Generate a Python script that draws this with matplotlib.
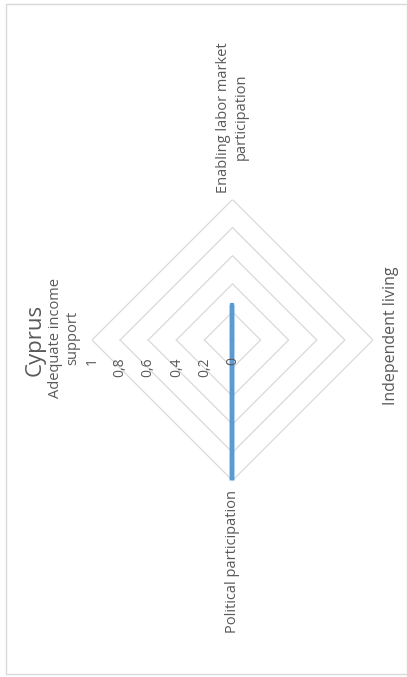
import numpy as np
import matplotlib.pyplot as plt
from matplotlib.patches import Rectangle

plt.rcParams["font.family"] = ["Open Sans", "DejaVu Sans"]

country = "Cyprus"
categories = [
    "Adequate income\nsupport",
    "Enabling labor market\nparticipation",
    "Independent living",
    "Political participation",
]
scores = [0.0, 0.25, 0.0, 1.0]
rings = [0.2, 0.4, 0.6, 0.8, 1.0]
tick_values = [1.0, 0.8, 0.6, 0.4, 0.2, 0.0]
tick_labels = ["1", "0,8", "0,6", "0,4", "0,2", "0"]

W, H = 407, 677
text_color = "#595959"
grid_color = "#D9D9D9"
line_color = "#5B9BD5"


def fx(px):
    return px / W


def fy(py):
    return 1 - py / H


fig = plt.figure(figsize=(W / 100, H / 100), dpi=100)

# radar sits on its side: first category points left, going clockwise
cx, cy, rad = 232.5, 340, 140.5
ax = fig.add_axes(
    [fx(cx - rad), fy(cy + rad), 2 * rad / W, 2 * rad / H], projection="polar"
)
ax.set_theta_offset(np.pi)
ax.set_theta_direction(-1)
ax.set_ylim(0, 1)
ax.set_axis_off()

angles = np.linspace(0, 2 * np.pi, len(categories), endpoint=False)
closed = np.append(angles, angles[0])

# polygon gridlines
for r in rings:
    ax.plot(closed, [r] * len(closed), color=grid_color, lw=0.9, zorder=1)

ax.plot(
    closed,
    scores + scores[:1],
    color=line_color,
    lw=3.2,
    solid_capstyle="round",
    solid_joinstyle="round",
    zorder=3,
)

# value labels along the first spoke
for v, lbl in zip(tick_values, tick_labels):
    ax.annotate(
        lbl,
        xy=(0, v),
        xytext=(0, -12.5),
        textcoords="offset points",
        rotation=90,
        ha="center",
        va="top",
        fontsize=10,
        color=text_color,
        zorder=4,
    )

# category labels: offset, alignment, size
label_pos = [
    ((-8.6, 1.5), "right", "center", 10.5),
    ((0, 5), "center", "bottom", 10.5),
    ((7, 3), "left", "center", 11.5),
    ((0, -6.5), "center", "top", 10.5),
]
for ang, name, (off, ha, va, fs) in zip(angles, categories, label_pos):
    ax.annotate(
        name,
        xy=(ang, 1),
        xytext=off,
        textcoords="offset points",
        rotation=90,
        ha=ha,
        va=va,
        multialignment="center",
        fontsize=fs,
        color=text_color,
    )

fig.text(
    fx(35), fy(340), country, rotation=90, ha="center", va="center",
    fontsize=16, color=text_color,
)

fig.patches.append(
    Rectangle(
        (fx(6), fy(674)), fx(406.5) - fx(6), (674 - 4) / H,
        transform=fig.transFigure, fill=False, edgecolor=grid_color, lw=1,
    )
)

fig.savefig("out.png", dpi=100)
